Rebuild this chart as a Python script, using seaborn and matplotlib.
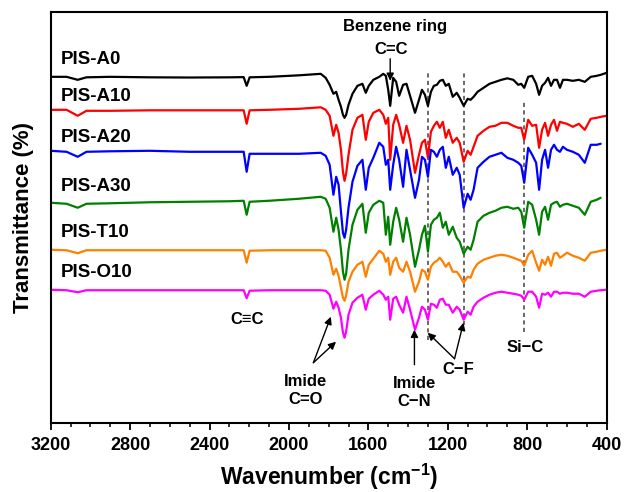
import numpy as np
import pandas as pd
import seaborn as sns
import matplotlib
matplotlib.use('Agg')
import matplotlib.pyplot as plt
from matplotlib.ticker import MultipleLocator

# FTIR spectra (stacked, arbitrary transmittance units)
wavenumber = [3200, 3120, 3064, 3020, 2900, 2700, 2500, 2300, 2228, 2213,
              2198, 2100, 1950, 1840,
              1815, 1795, 1776, 1762, 1750, 1738, 1728, 1720, 1712, 1700,
              1680, 1655, 1630, 1613, 1598, 1575,
              1545, 1525,
              1512, 1500, 1490, 1475, 1460, 1445, 1425, 1408, 1390, 1365,
              1345, 1330, 1315, 1300, 1285, 1270, 1255, 1240, 1225, 1210,
              1195, 1175, 1155, 1140, 1120, 1100, 1085, 1070, 1050, 1020,
              990, 960, 930, 900, 870, 845, 830, 815, 795, 775,
              755, 740, 725, 710, 695, 680, 665, 650, 635, 620,
              600, 570, 540, 510, 480, 450, 430, 400]

pis_a0 = [346, 346, 343, 345.5, 346, 345.5, 345.3, 345.5, 345.7, 337,
          345.5, 346, 347.5, 349,
          345, 338, 329, 331, 323, 316, 308, 305, 308, 318,
          329, 337, 339, 330, 337, 343,
          346, 349,
          347, 333, 317, 345, 341, 327, 338, 339, 327, 310,
          323, 333, 328, 317, 331, 337, 338, 342, 343, 337,
          339, 326, 330, 325, 317, 324, 323, 326, 331, 335,
          339, 341, 343, 344.5, 343, 338, 339, 335, 346, 347,
          339, 328, 337, 340, 345, 337, 343, 343, 335, 343,
          343, 342, 343, 341, 346, 347, 348, 350]

pis_a10 = [313, 313, 307, 312, 312, 312.5, 312.5, 312.5, 312.5, 299,
           312.5, 313, 314, 315.5,
           313, 307, 287, 298, 290, 273, 251, 242, 249, 268,
           293, 305, 308, 283, 301, 310,
           313, 308,
           299, 305, 263, 298, 308, 298, 280, 297, 283, 250,
           268, 280, 283, 265, 291, 297, 301, 295, 301, 285,
           293, 280, 285, 280, 261, 272, 268, 276, 287, 292,
           296, 297, 300, 300, 297, 295, 295, 283, 303, 297,
           298, 275, 293, 300, 287, 298, 303, 292, 301, 300,
           299, 296, 299, 293, 304, 305, 306, 307]

pis_a20 = [272, 271, 266, 271, 271.5, 272, 271, 271, 271, 251,
           269, 269, 269, 270,
           267, 258, 228, 246, 238, 211, 190, 185, 193, 215,
           241, 257, 263, 233, 255, 265,
           280, 276,
           258, 263, 233, 258, 276, 263, 236, 273, 253, 225,
           243, 266, 263, 246, 273, 271, 266, 273, 276, 255,
           266, 248, 255, 248, 215, 229, 223, 233, 255, 261,
           266, 268, 270, 265, 263, 260, 257, 240, 275, 268,
           260, 233, 263, 273, 255, 273, 278, 273, 271, 276,
           273, 271, 268, 260, 278, 278, 279, np.nan]

pis_a30 = [220, 219, 215, 219, 219.5, 220.5, 221, 221.5, 222, 208,
           221, 222, 224, 226,
           224, 215, 191, 205, 193, 173, 151, 143, 149, 173,
           198, 213, 219, 190, 210, 218,
           222, 220,
           188, 206, 178, 201, 215, 203, 181, 205, 188, 156,
           173, 188, 197, 171, 198, 203, 205, 210, 195, 201,
           188, 196, 185, 181, 169, 176, 173, 183, 201, 207,
           210, 212, 215, 216, 214, 215, 211, 195, 221, 218,
           203, 188, 211, 216, 203, 218, 220, 221, 216, 218,
           219, 217, 215, 208, 221, 223, 225, np.nan]

pis_t10 = [173, 172.5, 169.5, 172.5, 172.5, 172.5, 172.5, 172.5, 172.5, 160,
           172, 172.5, 172.5, 172.5,
           172, 165, 148, 154, 147, 135, 125, 122, 127, 141,
           151, 158, 161, 146, 158, 164,
           172, 169,
           161, 165, 148, 161, 165, 155, 151, 161, 151, 131,
           141, 153, 151, 143, 156, 160, 162, 165, 161, 156,
           160, 151, 151, 147, 140, 146, 145, 153, 159, 163,
           165, 167, 168, 167, 165, 163, 162, 157, 168, 172,
           160, 152, 163, 158, 166, 157, 169, 170, 165, 167,
           170, 167, 165, 162, 170, 171, 172, 173]

pis_o10 = [133, 132.5, 130.5, 132.5, 132.5, 132.5, 132.5, 132.5, 132.5, 124.5,
           132, 132.5, 132.5, 132.5,
           132, 128, 114, 121, 115, 105, 90, 85, 91, 108,
           120, 125, 128, 113, 124, 128,
           132, 128,
           123, 126, 103, 124, 126, 118, 110, 126, 113, 93,
           105, 116, 113, 103, 119, 118, 115, 123, 124, 118,
           118, 110, 116, 113, 103, 111, 108, 116, 121, 125,
           128, 130, 131, 130, 129, 128, 127, 123, 131, 131,
           126, 115, 129, 128, 130, 126, 131, 131, 129, 130,
           130, 129, 129, 126, 131, 132, 132.5, 133]

samples = ['PIS-A0', 'PIS-A10', 'PIS-A20', 'PIS-A30', 'PIS-T10', 'PIS-O10']
spectra = [pis_a0, pis_a10, pis_a20, pis_a30, pis_t10, pis_o10]
colors = ['black', '#ff0000', '#0000ff', '#008000', '#ff8000', '#ff00ff']
label_y = [363, 326, 285, 236, 190, 150]

# band markers (dashed lines)
band_x = [1300, 1120, 815]
band_top = [353, 351, 321]
band_bottom = [83, 98, 91]

for s in spectra:
    assert len(s) == len(wavenumber), len(s)

df = pd.concat([pd.DataFrame({'wavenumber': wavenumber, 'transmittance': s, 'sample': n})
                for n, s in zip(samples, spectra)], ignore_index=True)

sns.set_style('ticks')
plt.rcParams['font.family'] = ['Liberation Sans', 'DejaVu Sans']
plt.rcParams['font.weight'] = 'bold'
plt.rcParams['text.color'] = 'black'
plt.rcParams['axes.labelcolor'] = 'black'
plt.rcParams['xtick.color'] = 'black'
plt.rcParams['mathtext.fontset'] = 'custom'
plt.rcParams['mathtext.rm'] = 'Liberation Sans:bold'
plt.rcParams['mathtext.bf'] = 'Liberation Sans:bold'
plt.rcParams['mathtext.default'] = 'bf'

fig = plt.figure(figsize=(6.25, 4.92), dpi=100)
ax = fig.add_axes([0.0811, 0.1409, 0.8895, 0.834])

sns.lineplot(data=df, x='wavenumber', y='transmittance', hue='sample',
             palette=dict(zip(samples, colors)), estimator=None, sort=False,
             linewidth=1.6, legend=False, ax=ax)
for line in ax.lines:
    line.set_solid_joinstyle('round')

for x, top, bottom in zip(band_x, band_top, band_bottom):
    ax.plot([x, x], [bottom, top], color='#505050', lw=1.2, ls=(0, (2.5, 2)), zorder=1)

for name, y in zip(samples, label_y):
    ax.text(3150, y, name, ha='left', va='center', fontsize=13.5, fontweight='bold')

txt = dict(ha='center', va='center', fontsize=12, fontweight='bold')
arrow = dict(arrowstyle='-|>', color='black', lw=1, mutation_scale=11, shrinkA=0, shrinkB=0)
ax.text(1465, 396, 'Benzene ring', **txt)
ax.text(1487, 373, 'C=C', **txt)
ax.annotate('', xy=(1490, 342), xytext=(1490, 364), arrowprops=arrow)
ax.text(2213, 103, 'C≡C', **txt)
ax.text(1915, 32, 'Imide\nC=O', linespacing=1.25, **txt)
ax.annotate('', xy=(1789, 106), xytext=(1877, 60), arrowprops=arrow)
ax.annotate('', xy=(1763, 81), xytext=(1877, 60), arrowprops=arrow)
ax.text(1368, 30.5, 'Imide\nC\u2212N', linespacing=1.25, **txt)
ax.annotate('', xy=(1368, 93), xytext=(1368, 58), arrowprops=arrow)
ax.text(1147, 53, 'C\u2212F', **txt)
ax.annotate('', xy=(1301, 90), xytext=(1166, 64), arrowprops=arrow)
ax.annotate('', xy=(1121, 100), xytext=(1166, 64), arrowprops=arrow)
ax.text(811, 75, 'Si\u2212C', **txt)

ax.set_xlim(3200, 400)
ax.set_ylim(0, 410.5)
ax.set_xticks(range(3200, 399, -400))
ax.xaxis.set_minor_locator(MultipleLocator(100))
ax.tick_params(axis='x', which='major', direction='out', length=5, width=1.3,
               labelsize=13, pad=5, colors='black')
ax.tick_params(axis='x', which='minor', direction='out', length=3, width=1.1, colors='black')
ax.set_yticks([])
for sp in ax.spines.values():
    sp.set_visible(True)
    sp.set_linewidth(1.5)
    sp.set_color('black')

ax.set_xlabel('Wavenumber (cm$^{-1}$)', fontsize=16.5, fontweight='bold', labelpad=6)
ax.set_ylabel('Transmittance (%)', fontsize=16, fontweight='bold', labelpad=12)

fig.savefig('out.png', dpi=100)
